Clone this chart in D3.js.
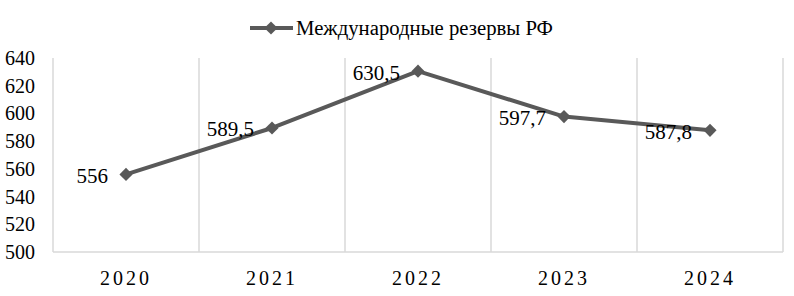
<!DOCTYPE html>
<html>
<head>
<meta charset="utf-8">
<script src="https://cdn.jsdelivr.net/npm/d3@7"></script>
<style>
  body { margin: 0; background: #fff; }
</style>
</head>
<body>
<div id="chart"></div>
<script>
var years = ["2020", "2021", "2022", "2023", "2024"];
var reserves = [556, 589.5, 630.5, 597.7, 587.8];
var reserveLabels = ["556", "589,5", "630,5", "597,7", "587,8"];
var yTicks = [500, 520, 540, 560, 580, 600, 620, 640];
var seriesName = "Международные резервы РФ";

var width = 794, height = 296;
var margin = { top: 58, right: 11, bottom: 44, left: 53 };
var lineColor = "#595959";
var fontFamily = "'Liberation Serif', monospace";

var svg = d3.select("#chart").append("svg")
  .attr("width", width)
  .attr("height", height);

var x = d3.scaleBand().domain(years)
  .range([margin.left, width - margin.right]);
var y = d3.scaleLinear().domain([500, 640])
  .range([height - margin.bottom, margin.top]);

// vertical gridlines on category boundaries
var bounds = years.map(function (d) { return x(d); }).concat([x.range()[1]]);
svg.append("g").selectAll("line")
  .data(bounds)
  .enter().append("line")
  .attr("x1", function (d) { return d; })
  .attr("x2", function (d) { return d; })
  .attr("y1", y(640))
  .attr("y2", y(500))
  .attr("stroke", "#d9d9d9")
  .attr("stroke-width", 1.5);

// bottom axis line
svg.append("line")
  .attr("x1", x.range()[0]).attr("x2", x.range()[1])
  .attr("y1", y(500)).attr("y2", y(500))
  .attr("stroke", "#d9d9d9").attr("stroke-width", 1.5);

// y labels
svg.append("g").selectAll("text")
  .data(yTicks)
  .enter().append("text")
  .attr("x", 35)
  .attr("y", function (d) { return y(d); })
  .attr("dy", "0.35em")
  .attr("text-anchor", "end")
  .attr("font-family", fontFamily)
  .attr("font-size", 20)
  .text(function (d) { return d; });

// x labels
svg.append("g").selectAll("text")
  .data(years)
  .enter().append("text")
  .attr("x", function (d) { return x(d) + x.bandwidth() / 2; })
  .attr("y", 278)
  .attr("dy", "0.35em")
  .attr("text-anchor", "middle")
  .attr("font-family", fontFamily)
  .attr("font-size", 20)
  .attr("letter-spacing", 3)
  .text(function (d) { return d; });

var cx = function (d, i) { return x(years[i]) + x.bandwidth() / 2; };
var line = d3.line()
  .x(cx)
  .y(function (d) { return y(d); });

svg.append("path")
  .datum(reserves)
  .attr("d", line)
  .attr("fill", "none")
  .attr("stroke", lineColor)
  .attr("stroke-width", 4)
  .attr("stroke-linejoin", "round");

var diamond = d3.symbol().type(d3.symbolDiamond2).size(110);
svg.append("g").selectAll("path")
  .data(reserves)
  .enter().append("path")
  .attr("d", diamond)
  .attr("transform", function (d, i) { return "translate(" + cx(d, i) + "," + y(d) + ")"; })
  .attr("fill", lineColor);

// data labels
svg.append("g").selectAll("text")
  .data(reserves)
  .enter().append("text")
  .attr("x", function (d, i) { return cx(d, i) - 18; })
  .attr("y", function (d) { return y(d) + 1; })
  .attr("dy", "0.35em")
  .attr("text-anchor", "end")
  .attr("font-family", fontFamily)
  .attr("font-size", 21)
  .text(function (d, i) { return reserveLabels[i]; });

// legend
var legend = svg.append("g");
legend.append("line")
  .attr("x1", 250).attr("x2", 293)
  .attr("y1", 28).attr("y2", 28)
  .attr("stroke", lineColor).attr("stroke-width", 4);
legend.append("path")
  .attr("d", diamond)
  .attr("transform", "translate(271,28)")
  .attr("fill", lineColor);
legend.append("text")
  .attr("x", 296)
  .attr("y", 28)
  .attr("dy", "0.35em")
  .attr("font-family", fontFamily)
  .attr("font-size", 20)
  .attr("textLength", 257)
  .attr("lengthAdjust", "spacingAndGlyphs")
  .text(seriesName);
</script>
</body>
</html>
